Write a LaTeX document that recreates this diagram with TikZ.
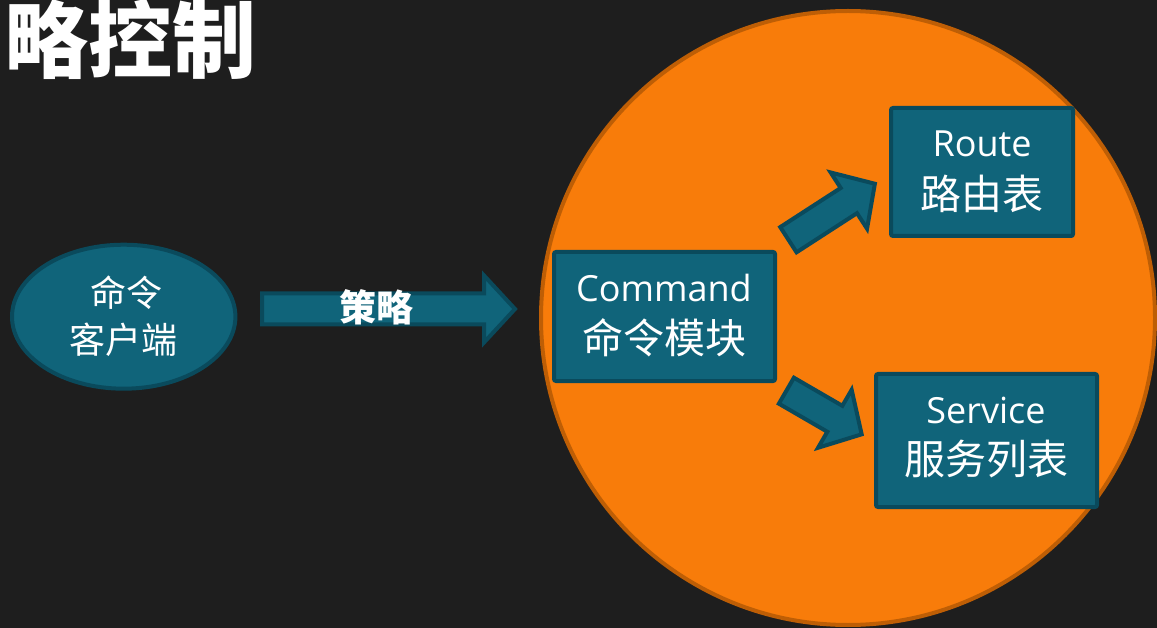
\documentclass[tikz,border=0pt]{standalone}
\usepackage{fontspec}
\usetikzlibrary{shapes.geometric}
\newfontfamily\cjk{Noto Sans CJK SC}
\newfontfamily\lat{Open Sans}
\definecolor{bgdark}{RGB}{30,30,30}
\definecolor{tealfill}{RGB}{16,100,122}
\definecolor{tealline}{RGB}{10,74,92}
\definecolor{orangefill}{RGB}{248,124,10}
\definecolor{orangeline}{RGB}{190,94,5}
\tikzset{
  pics/barrow/.style n args={4}{code={
    \path[arrowbody] (0,-#2) -- (#1-#4,-#2) -- (#1-#4,-#3) -- (#1,0)
      -- (#1-#4,#3) -- (#1-#4,#2) -- (0,#2) -- cycle;
  }},
  arrowbody/.style={fill=tealfill, draw=tealline, line width=4pt, line join=miter},
  box/.style={rectangle, fill=tealfill, draw=tealline, line width=4pt, rounded corners=2pt, inner sep=0pt},
  client/.style={ellipse, fill=tealfill, draw=tealline, line width=4pt, inner sep=0pt},
  orb/.style={circle, fill=orangefill, draw=orangeline, line width=4pt, inner sep=0pt},
  zh/.style={text=white, inner sep=0pt, anchor=base, font=\cjk\fontsize{41}{46}\selectfont},
  en/.style={text=white, inner sep=0pt, anchor=base, font=\lat\fontsize{36}{40}\selectfont},
  zhsmall/.style={text=white, inner sep=0pt, anchor=base, font=\cjk\fontsize{36}{40}\selectfont},
  zhbold/.style={text=white, inner sep=0pt, anchor=base, font=\cjk\bfseries\fontsize{37}{40}\selectfont},
  headline/.style={text=white, inner sep=0pt, anchor=base west, font=\cjk\bfseries\fontsize{84}{90}\selectfont},
}
\begin{document}
\begin{tikzpicture}[x=1pt,y=-1pt]
\useasboundingbox (0,0) rectangle (1157,628);
\clip (0,0) rectangle (1157,628);
\fill[bgdark] (0,0) rectangle (1157,628);

% heading
\node[headline] (title) at (4,72) {略控制};

% client ellipse
\node[client, minimum width=223.4, minimum height=144] (client) at (123.7,316.7) {};
\node[zhsmall] (clientA) at (126,307) {命令};
\node[zhsmall] (clientB) at (123,353) {客户端};

% policy arrow
\pic at (262,309) {barrow={253}{15.5}{33.5}{31}};
\node[zhbold] (policy) at (376,321.6) {策略};

% orange region
\node[orb, minimum size=614] (region) at (848,318) {};

% modules
\node[box, minimum width=221, minimum height=129] (cmd) at (664.5,316.5) {};
\node[en] (cmdEn) at (664,302) {Command};
\node[zh] (cmdZh) at (664,353) {命令模块};

\node[box, minimum width=182, minimum height=128] (route) at (982,172) {};
\node[en] (routeEn) at (982,156.7) {Route};
\node[zh] (routeZh) at (982,209.6) {路由表};

\node[box, minimum width=221, minimum height=133] (svc) at (986.5,440.5) {};
\node[en] (svcEn) at (986,423.3) {Service};
\node[zh] (svcZh) at (986,474) {服务列表};

% links from command module
\pic[rotate=32.9] at (788.4,239.7) {barrow={103}{15}{33.5}{31}};
\pic[rotate=-30.1] at (786.4,390.7) {barrow={87}{15}{33.5}{31}};
\end{tikzpicture}
\end{document}
